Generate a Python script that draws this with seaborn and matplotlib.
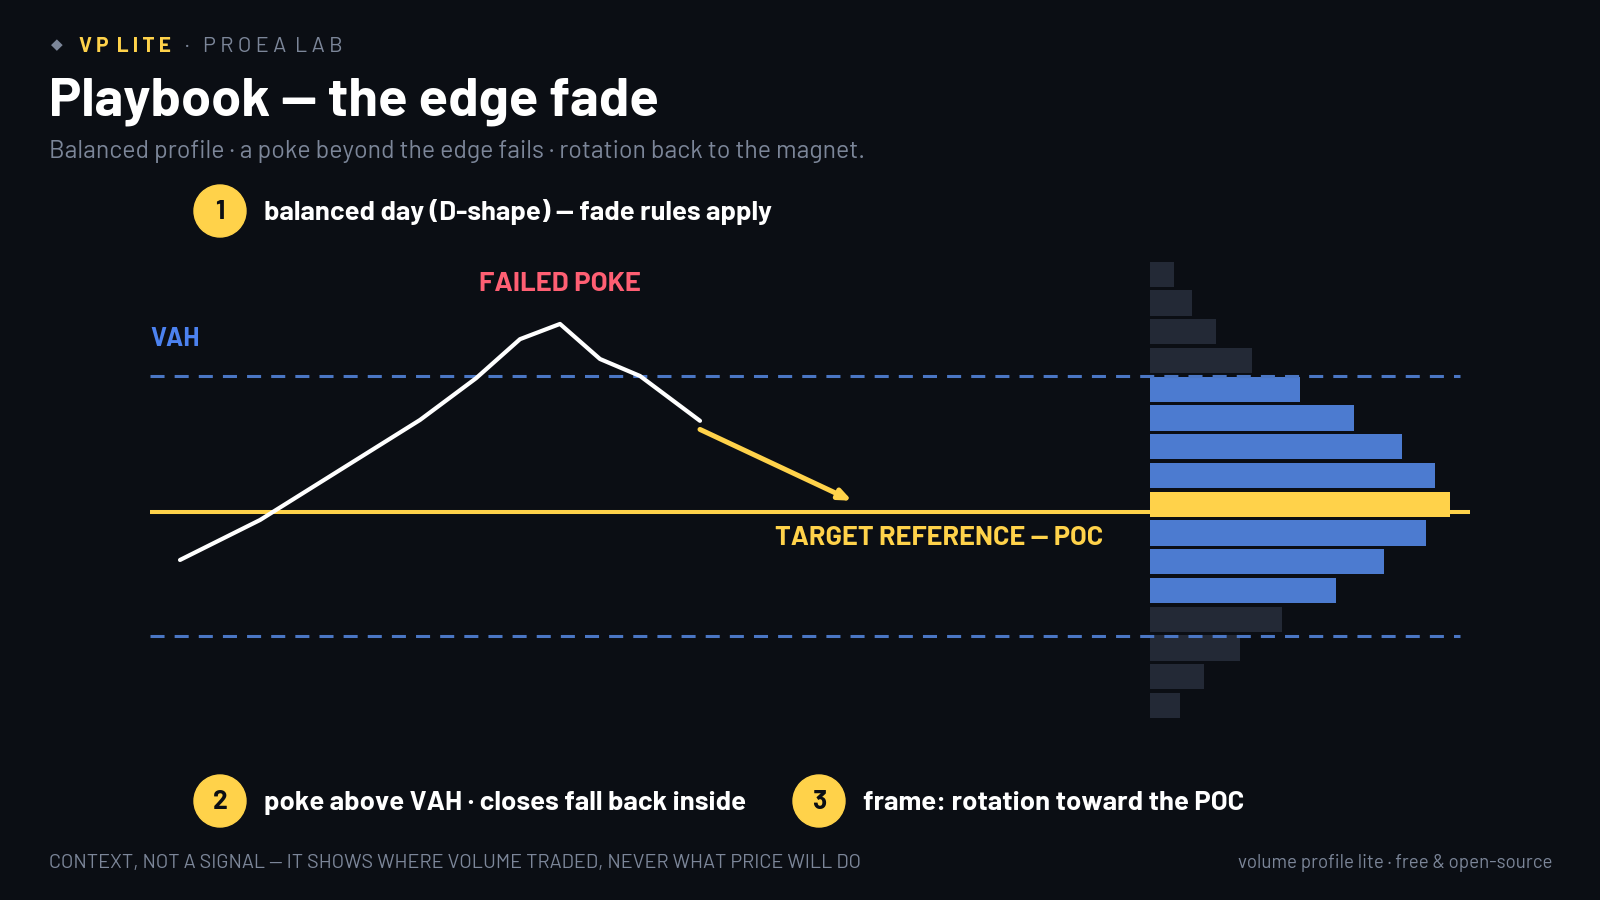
import matplotlib
matplotlib.use("Agg")
import matplotlib.pyplot as plt
from matplotlib.patches import Circle
import pandas as pd
import seaborn as sns

# price path of the session (time index, price)
path_t = [0, 2, 6, 7.4, 8.5, 9.5, 10.5, 11.5, 13]
path_price = [105.06, 106.45, 109.93, 111.38, 112.74, 113.27, 112.05, 111.46, 109.90]
# expected rotation back to the POC
arrow_t = [13, 16.8]
arrow_price = [109.6, 107.12]

# volume profile, top row first
profile_price = [115, 114, 113, 112, 111, 110, 109, 108, 107, 106, 105, 104, 103, 102, 101, 100]
profile_vol = [8, 14, 22, 34, 50, 68, 84, 95, 100, 92, 78, 62, 44, 30, 18, 10]
va_rows = [111, 110, 109, 108, 106, 105, 104]
poc_row = 107

vah = 111.45
val = 102.42
poc = 106.72

BG = "#0b0e14"
YELLOW = "#ffd24a"
BLUE = "#4c7bd0"
DASH = "#4a76c4"
DARK = "#232936"
GRAY = "#7c8699"
RED = "#ff5f73"
VAHBLUE = "#4c82f0"

sns.set_theme(style="dark")
plt.rcParams["font.family"] = ["Barlow", "Barlow Semi Condensed", "DejaVu Sans"]

fig = plt.figure(figsize=(16, 9), dpi=100, facecolor=BG)

# profile on its own axes, categorical rows
axp = fig.add_axes([1150 / 1600, 0, 320 / 1600, 1])
zone = ["poc" if p == poc_row else ("va" if p in va_rows else "out") for p in profile_price]
df = pd.DataFrame({"row": [str(p) for p in profile_price], "vol": profile_vol, "zone": zone})
sns.barplot(data=df, x="vol", y="row", hue="zone", order=df["row"].tolist(),
            palette={"poc": YELLOW, "va": BLUE, "out": DARK}, dodge=False, saturation=1,
            width=0.88, legend=False, ax=axp, orient="h", linewidth=0, edgecolor="none")
axp.set_xlim(0, 320 / 3)
axp.set_ylim(21.767, -9.537)
axp.axis("off")

# main price axes
ax = fig.add_axes([0, 0, 1, 1])
ax.patch.set_alpha(0)
ax.set_xlim(-4.5, 35.5)
ax.set_ylim(93.233, 124.537)
ax.axis("off")

ax.hlines([vah, val], -0.75, 32.0, colors=DASH, lw=2.2, linestyles=(0, (4.6, 3.3)), zorder=2)
ax.hlines(poc, -0.75, 32.25, colors=YELLOW, lw=2.9, zorder=2)
sns.lineplot(x=path_t, y=path_price, sort=False, color="white", lw=3, ax=ax, zorder=4)
ax.annotate("", xy=(arrow_t[1], arrow_price[1]), xytext=(arrow_t[0], arrow_price[0]),
            arrowprops=dict(arrowstyle="-|>,head_length=0.6,head_width=0.25", color=YELLOW,
                            lw=3.6, shrinkA=0, shrinkB=0, capstyle="round"), zorder=5)

# overlay in pixel units for the text layout
ov = fig.add_axes([0, 0, 1, 1])
ov.patch.set_alpha(0)
ov.set_xlim(0, 1600)
ov.set_ylim(900, 0)
ov.axis("off")

ov.text(57, 45, "◆", color=GRAY, fontsize=11, ha="center", va="center", family="DejaVu Sans")
ov.text(79, 52, "V P  L I T E", color=YELLOW, fontsize=15, fontweight="bold", va="baseline")
ov.text(187, 52, "·", color=GRAY, fontsize=15, ha="center", va="baseline")
ov.text(203, 52, "P R O E A  L A B", color=GRAY, fontsize=15.6, va="baseline")

ov.text(49, 115, "Playbook — the edge fade", color="white", fontsize=39, fontweight="bold",
        va="baseline")
ov.text(49, 158, "Balanced profile · a poke beyond the edge fails · rotation back to the magnet.",
        color=GRAY, fontsize=17.9, va="baseline")

badges = [(220, 211, "1", "balanced day (D-shape) — fade rules apply"),
          (220, 801, "2", "poke above VAH · closes fall back inside"),
          (819, 801, "3", "frame: rotation toward the POC")]
for bx, by, num, label in badges:
    ov.add_patch(Circle((bx, by), 26, color=YELLOW))
    ov.text(bx, by + 8, num, color=BG, fontsize=19, fontweight="bold", ha="center", va="baseline")
    ov.text(bx + 44, by + 9, label, color="white", fontsize=19.7, fontweight="bold", va="baseline")

ov.text(560, 291, "FAILED POKE", color=RED, fontsize=19.8, fontweight="bold", ha="center",
        va="baseline")
ov.text(150, 346, "VAH", color=VAHBLUE, fontsize=18.5, fontweight="bold", va="baseline")
ov.text(775, 545, "TARGET REFERENCE — POC", color=YELLOW, fontsize=19.5, fontweight="bold",
        va="baseline")

ov.text(49, 868, "CONTEXT, NOT A SIGNAL — IT SHOWS WHERE VOLUME TRADED, NEVER WHAT PRICE WILL DO",
        color=GRAY, fontsize=14.3, va="baseline")
ov.text(1552, 868, "volume profile lite · free & open-source", color=GRAY, fontsize=13.5,
        ha="right", va="baseline")

fig.savefig("out.png", dpi=100, facecolor=BG)
